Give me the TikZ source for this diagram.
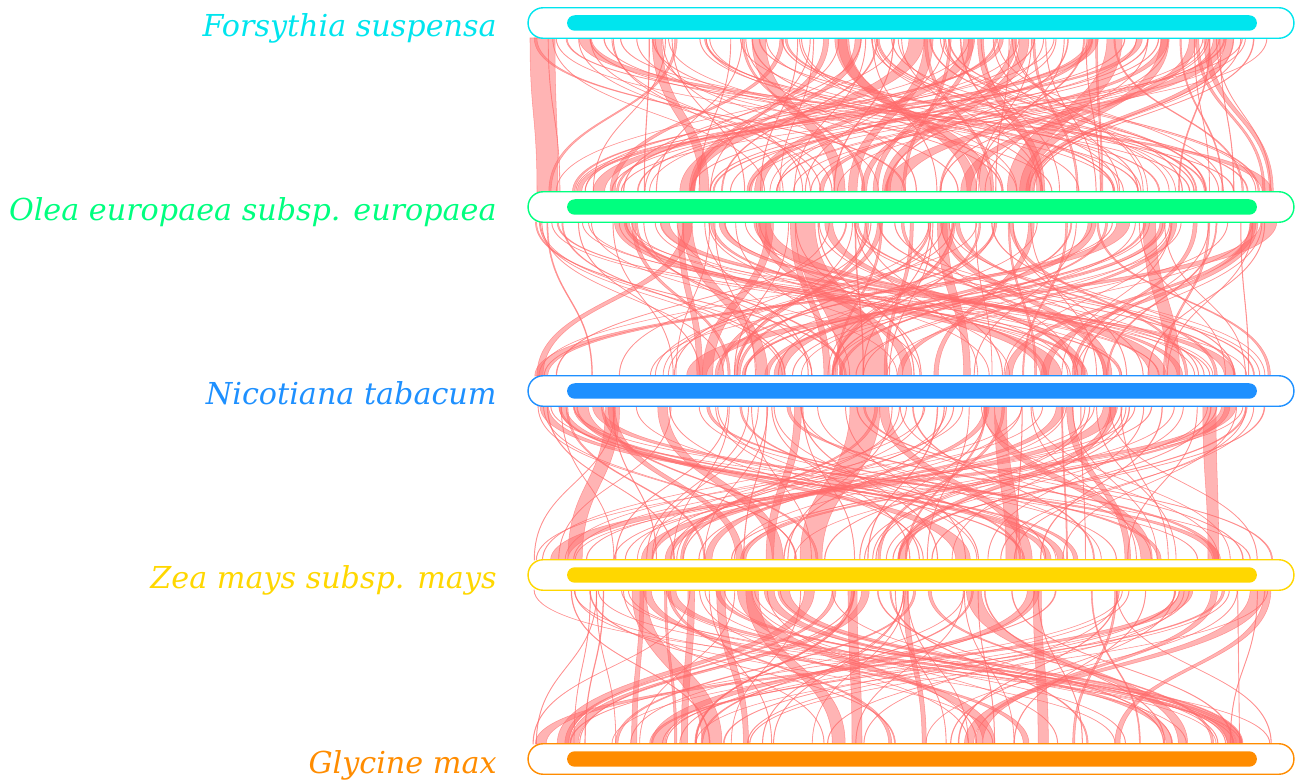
\documentclass[tikz,border=0pt]{standalone}
\usepackage{fontspec}
\setmainfont{DejaVu Serif}
\definecolor{fscol}{HTML}{00E5EE}
\definecolor{oecol}{HTML}{00FF7F}
\definecolor{ntcol}{HTML}{1E90FF}
\definecolor{zmcol}{HTML}{FFD700}
\definecolor{gmcol}{HTML}{FF8C00}
\definecolor{linkred}{HTML}{FF6A6A}
% one syntenic block: ribbon from (xa..xa+wa, ya) to (xb..xb+wb, yb)
\newcommand{\synlink}[6]{%
  \path[link] (#1,#5) .. controls (#1,{(#5+#6)/2}) and (#3,{(#5+#6)/2}) .. (#3,#6)
    -- ({#3+#4},#6) .. controls ({#3+#4},{(#5+#6)/2}) and ({#1+#2},{(#5+#6)/2}) .. ({#1+#2},#5) -- cycle;}

\begin{document}
\begin{tikzpicture}[x=0.02cm, y=-0.02cm, font=\itshape\fontsize{17.2}{20}\selectfont,
  track/.style={draw, thick, fill=white, rounded corners=0.3cm, minimum width=15.32cm, minimum height=0.61cm, inner sep=0pt},
  bar/.style={rounded corners=0.155cm, minimum width=13.8cm, minimum height=0.31cm, inner sep=0pt},
  link/.style={fill=linkred, fill opacity=.5, draw=linkred, draw opacity=.6, line width=.3pt}]
  \useasboundingbox (0,0) rectangle (1296,780);
  \pgfmathsetseed{4217}
  % random blocks between neighbouring tracks
  \foreach \ya/\yb/\n in {38/192/135, 222/376/125, 406/560/110, 590/744/90}{
    \foreach \k in {1,...,\n}{
      \pgfmathsetmacro{\xa}{532+740*rnd}
      \pgfmathsetmacro{\xb}{532+740*rnd}
      \pgfmathsetmacro{\r}{rnd}
      \pgfmathsetmacro{\wa}{0.4+16*\r^7}
      \pgfmathsetmacro{\wb}{\wa*(0.6+0.8*rnd)}
      \synlink{\xa}{\wa}{\xb}{\wb}{\ya}{\yb}
    }
  }
  % a few large blocks
  \synlink{530}{25}{537}{21}{38}{192}
  \synlink{795}{20}{840}{48}{222}{376}
  \synlink{850}{30}{800}{22}{406}{560}
  \synlink{632}{14}{702}{20}{590}{744}
  \synlink{848}{9}{852}{10}{590}{744}
  % tracks and labels
  \foreach \y/\c/\t/\s in {23/fscol/fs/Forsythia suspensa, 207/oecol/oe/Olea europaea subsp. europaea,
      391/ntcol/nt/Nicotiana tabacum, 575/zmcol/zm/Zea mays subsp. mays, 759/gmcol/gm/Glycine max}{
    \node[track, draw=\c] (\t) at (911,\y) {};
    \node[bar, fill=\c] (\t bar) at (912,\y) {};
    \node[anchor=base east, text=\c, inner sep=0pt] (\t lab) at (497,\y+14) {\s};
  }
\end{tikzpicture}
\end{document}
